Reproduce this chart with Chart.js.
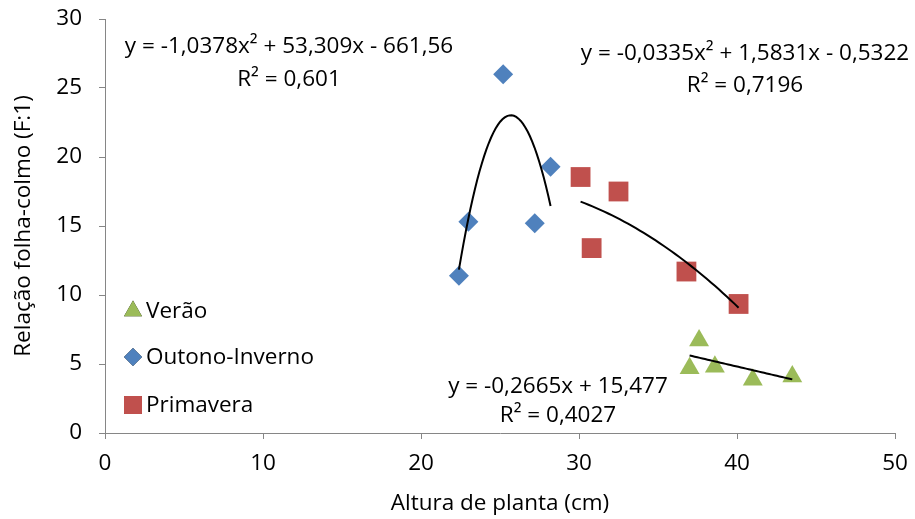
<!DOCTYPE html>
<html><head><meta charset="utf-8">
<script src="https://cdn.jsdelivr.net/npm/chart.js@4.4.0/dist/chart.umd.min.js"></script>
<style>html,body{margin:0;padding:0;background:#fff}#wrap{width:915px;height:519px}</style>
</head><body><div id="wrap"><canvas id="c" width="915" height="519"></canvas></div>
<script>
// Data
const veraoX = [37.0, 37.6, 38.6, 41.0, 43.5];
const veraoY = [4.7, 6.7, 4.8, 3.85, 4.1];
const outonoX = [22.4, 23.0, 25.2, 27.2, 28.2];
const outonoY = [11.4, 15.3, 26.0, 15.2, 19.3];
const primaveraX = [30.1, 30.8, 32.5, 36.8, 40.1];
const primaveraY = [18.55, 13.4, 17.5, 11.7, 9.35];
// Trendline coefficients as printed on the chart (c2, c1, c0)
const veraoFit = [0, -0.2665, 15.477];
const outonoFit = [-1.0378, 53.309, -661.56];
const primaveraFit = [-0.0335, 1.5831, -0.5322];
const legendLabels = ['Verão', 'Outono-Inverno', 'Primavera'];
const eqTexts = [
  ['y = -1,0378x² + 53,309x - 661,56', 'R² = 0,601'],
  ['y = -0,0335x² + 1,5831x - 0,5322', 'R² = 0,7196'],
  ['y = -0,2665x + 15,477', 'R² = 0,4027']
];
const xTicks = [0, 10, 20, 30, 40, 50];
const yTicks = [0, 5, 10, 15, 20, 25, 30];

const FONT = '"Open Sans", Lato, sans-serif';
const pts = (xs, ys) => xs.map((x, i) => ({x, y: ys[i]}));
function fitCurve(c, xs) {
  const a = Math.min(...xs), b = Math.max(...xs), out = [];
  for (let i = 0; i <= 40; i++) { const x = a + (b - a) * i / 40; out.push({x, y: c[0]*x*x + c[1]*x + c[2]}); }
  return out;
}
const GREEN = '#9BBB59', BLUE = '#4F81BD', RED = '#C0504D';

const overlay = {
  id: 'overlay',
  afterDatasetsDraw(chart) {
    const ctx = chart.ctx;
    ctx.save();
    ctx.fillStyle = '#000';
    ctx.textAlign = 'center';
    ctx.textBaseline = 'middle';
    ctx.font = '22.5px ' + FONT;
    const pos = [[289, 47, 80], [745, 54, 86], [558, 387, 416]];
    eqTexts.forEach((t, i) => {
      ctx.fillText(t[0], pos[i][0], pos[i][1]);
      ctx.fillText(t[1], pos[i][0], pos[i][2]);
    });
    // legend
    const ly = [311, 357, 405];
    const styles = [['triangle', GREEN, 10.4], ['rectRot', BLUE, 9], ['rect', RED, 12.7]];
    ctx.textAlign = 'left';
    legendLabels.forEach((l, i) => {
      Chart.helpers.drawPoint(ctx, {pointStyle: styles[i][0], radius: styles[i][2], rotation: 0}, 133, ly[i]);
      ctx.fillStyle = styles[i][1];
      ctx.fill();
      ctx.fillStyle = '#000';
      ctx.fillText(l, 146, ly[i] + 1);
    });
    ctx.restore();
  }
};

new Chart(document.getElementById('c'), {
  type: 'scatter',
  data: {
    datasets: [
      {label: 'fitV', data: fitCurve(veraoFit, veraoX), showLine: true, pointRadius: 0, borderColor: '#000', borderWidth: 2, order: 0},
      {label: 'fitO', data: fitCurve(outonoFit, outonoX), showLine: true, pointRadius: 0, borderColor: '#000', borderWidth: 2, order: 0},
      {label: 'fitP', data: fitCurve(primaveraFit, primaveraX), showLine: true, pointRadius: 0, borderColor: '#000', borderWidth: 2, order: 0},
      {label: legendLabels[0], data: pts(veraoX, veraoY), pointStyle: 'triangle', pointRadius: 11.5, backgroundColor: GREEN, borderColor: GREEN, borderWidth: 0, order: 1},
      {label: legendLabels[1], data: pts(outonoX, outonoY), pointStyle: 'rectRot', pointRadius: 10, backgroundColor: BLUE, borderColor: BLUE, borderWidth: 0, order: 1},
      {label: legendLabels[2], data: pts(primaveraX, primaveraY), pointStyle: 'rect', pointRadius: 14, backgroundColor: RED, borderColor: RED, borderWidth: 0, order: 1}
    ]
  },
  options: {
    responsive: false,
    animation: false,
    layout: {padding: {top: 19, right: 20, left: 0, bottom: 0}},
    plugins: {legend: {display: false}, tooltip: {enabled: false}},
    scales: {
      x: {
        type: 'linear', min: 0, max: 50,
        afterBuildTicks: s => { s.ticks = xTicks.map(v => ({value: v})); },
        afterFit: s => { s.height = 86; s.paddingRight = 0; s.paddingLeft = 0; },
        ticks: {color: '#000', font: {family: FONT, size: 22.5}, padding: 11, maxRotation: 0},
        grid: {drawOnChartArea: false, drawTicks: true, tickLength: 6, color: '#868686'},
        border: {color: '#868686', width: 1},
        title: {display: true, text: 'Altura de planta (cm)', color: '#000', font: {family: FONT, size: 22.5}, padding: {top: 2, bottom: 2}}
      },
      y: {
        type: 'linear', min: 0, max: 30,
        afterBuildTicks: s => { s.ticks = yTicks.map(v => ({value: v})); },
        afterFit: s => { s.width = 105; s.paddingTop = 0; s.paddingBottom = 0; },
        ticks: {color: '#000', font: {family: FONT, size: 22.5}, padding: 17},
        grid: {drawOnChartArea: false, drawTicks: true, tickLength: 6, color: '#868686'},
        border: {color: '#868686', width: 1},
        title: {display: true, text: 'Relação folha-colmo (F:1)', color: '#000', font: {family: FONT, size: 22.5}, padding: {top: 10, bottom: 2}}
      }
    }
  },
  plugins: [overlay]
});
</script></body></html>
